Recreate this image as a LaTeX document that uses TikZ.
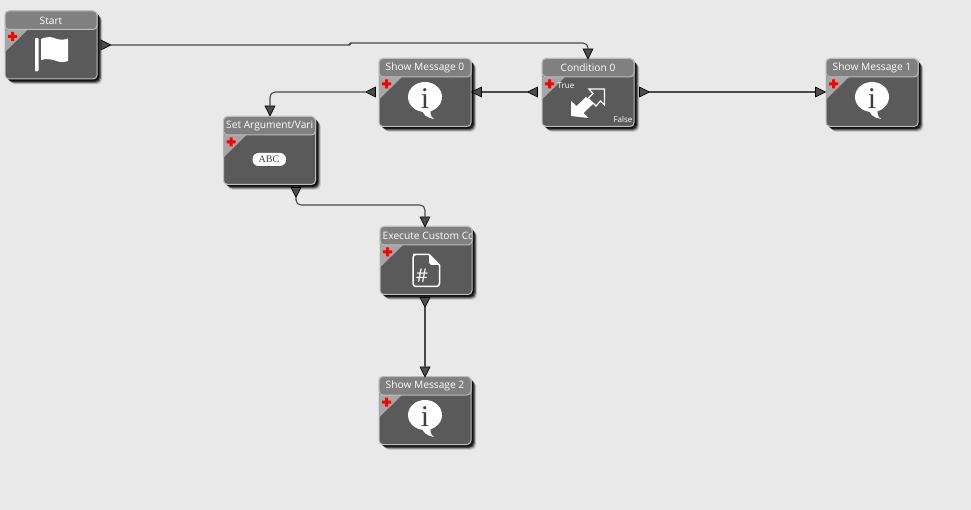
\documentclass[tikz,border=0pt]{standalone}
\usepackage{fontspec}
\setmainfont{Open Sans}
\newfontfamily\serifi{Liberation Serif}
\usetikzlibrary{shapes.geometric,calc}
\definecolor{bgc}{HTML}{E9E9E9}
\definecolor{bodyc}{HTML}{5A5A5A}
\definecolor{headc}{HTML}{808080}
\definecolor{edgec}{HTML}{BDBDBD}
\definecolor{cornerc}{HTML}{A6A6A6}
\definecolor{wirec}{HTML}{4A4A4A}
\definecolor{portc}{HTML}{4C4C4C}
\tikzset{
 blockbody/.style={draw=edgec,line width=1pt,fill=bodyc,rounded corners=4pt,anchor=north west,minimum width=92pt,minimum height=68pt,inner sep=0pt,outer sep=0pt},
 porttri/.style={isosceles triangle,isosceles triangle stretches,draw=black,line width=0.7pt,fill=portc,inner sep=0pt,outer sep=0pt,minimum width=10pt,minimum height=10pt},
 portleft/.style={porttri,shape border rotate=180},
 portright/.style={porttri,shape border rotate=0},
 portdown/.style={porttri,shape border rotate=270},
 wire/.style={draw=wirec,line width=1.1pt,rounded corners=5pt},
 jog/.style={draw=wirec,line width=1.1pt,rounded corners=1.5pt},
 titletext/.style={text=white,font=\fontsize{10.2}{12}\selectfont,inner sep=0pt},
 smalltext/.style={text=white,font=\fontsize{8}{9}\selectfont,inner sep=0pt},
}
% name, x, y, title, title placement (relative to the box)
\newcommand\blk[6][]{%
 \begin{scope}[shift={(#3,#4)}]
  \foreach \k/\o in {6/.10,5.2/.20,4.4/.35,3.6/.5,2.8/.65}{
   \fill[black,opacity=\o,rounded corners=5pt] (\k-1,\k-1) rectangle (92+\k-0.6,68+\k-0.6);}
  \node[blockbody] (#2) at (0,0) {};
  \fill[cornerc] (0,18.5) -- (23,18.5) -- (0,41) -- cycle;
  \path[draw=edgec,line width=1pt,fill=headc,rounded corners=4pt] (0,18.5) -- (0,0) -- (92,0) -- (92,18.5) -- cycle;
  \fill[red] (3,24) rectangle (12,27) (6,21) rectangle (9,30);
  \begin{scope}
   \clip (1,0) rectangle (91,18);
   \node[titletext,#1] (#2t) at #6 {#5};
  \end{scope}
 \end{scope}}
\newcommand\infoicon[3]{%
 \begin{scope}[shift={(#1,#2)}]
  \fill[white] (0,0) ellipse (17pt and 15pt);
  \fill[white] (-3,12) .. controls (-3,17) and (2,21) .. (9,22) .. controls (5,19) and (5,16) .. (6,12) -- cycle;
  \node[text=bodyc!70!black,inner sep=0pt,font=\serifi\fontsize{30}{30}\selectfont] (#3) at (0,2) {i};
 \end{scope}}
\begin{document}
\begin{tikzpicture}[x=1pt,y=-1pt]
\useasboundingbox (0,0) rectangle (971,510);
\fill[bgc] (0,0) rectangle (971,510);

\blk{start}{5}{11}{Start}{(46,9.5)}
\blk{msgA}{379}{58.5}{Show Message 0}{(46,9.5)}
\blk{cond}{542}{58.5}{Condition 0}{(46,9.5)}
\blk{msgB}{826}{58.5}{Show Message 1}{(46,9.5)}
\blk[anchor=west]{setarg}{223.5}{116.5}{Set Argument/Vari}{(2.5,9.5)}
\blk[anchor=west]{exec}{380}{226.5}{Execute Custom Co}{(2.5,9.5)}
\blk{msgC}{379}{376.5}{Show Message 2}{(46,9.5)}

% flag icon
\fill[white,rounded corners=0.8pt] (35,38) rectangle (38.5,71.5);
\fill[white] (41,39) .. controls (48,36) and (52,37) .. (57,39) .. controls (61,40) and (64,40) .. (68,38.5) -- (68,61) .. controls (63,63) and (59,62) .. (55,60.5) .. controls (50,59) and (46,58.5) .. (41,60) -- cycle;

% info icons
\infoicon{425}{97}{iA}
\infoicon{872}{97}{iB}
\infoicon{425}{415}{iC}

% ABC pill
\fill[white,rounded corners=6pt] (252.5,153) rectangle (286,166);
\node[text=bodyc!70!black,inner sep=0pt,font=\serifi\fontsize{10}{10}\selectfont] (abc) at (269,159.5) {ABC};

% document icon
\draw[white,line width=1.5pt,rounded corners=3pt] (429,254.5) -- (416,254.5) -- (413,254.5) -- (413,286.5) -- (439.5,286.5) -- (439.5,265);
\draw[white,line width=1.5pt] (429,254.5) -- (439.5,265);
\fill[white] (429,254.5) -- (439.5,265) -- (431,265) -- (429,263) -- cycle;
\node[text=white,inner sep=0pt,font=\fontsize{19}{19}\selectfont] (hash) at (422,275.5) {\#};

% condition arrows
\fill[white] (571,116) -- (571,101) -- (576.5,106) -- (586,97) -- (593,104) -- (583.5,113) -- (588.5,118) -- (571,116) -- cycle;
\draw[white,line width=1.3pt,line join=miter] (604.5,89) -- (589,89) -- (593,93.5) -- (588,98.5) -- (596,106) -- (600.5,101) -- (604.5,105) -- cycle;

% condition labels
\node[smalltext] (trueL) at (566,86) {True};
\node[smalltext] (falseL) at (623,119.5) {False};

% ports
\node[portright] (pStartOut) at (104,45) {};
\node[portdown]  (pCondIn)   at (588,52) {};
\node[portleft]  (pCondT)    at (534.5,92) {};
\node[portright] (pCondF)    at (642.5,92) {};
\node[portleft]  (pMsgAIn)   at (478.5,92) {};
\node[portleft]  (pMsgAOut)  at (372.5,92) {};
\node[portright] (pMsgBIn)   at (818.5,92) {};
\node[portdown]  (pSetIn)    at (270,109) {};
\node[portdown]  (pSetOut)   at (296,190.5) {};
\node[portdown]  (pExecIn)   at (425,220) {};
\node[portdown]  (pExecOut)  at (425,300.5) {};
\node[portdown]  (pMsgCIn)   at (425,370) {};

% connectors
\coordinate (jogA) at (350,45);
\coordinate (jogB) at (350,43);
\coordinate (jogC) at (352,43);
\coordinate (setBend) at (296,205);
\draw[jog] (pStartOut.apex) -- (jogA) -- (jogB) -- (jogC);
\draw[wire] (jogC) -- (jogC -| pCondIn.lower side) -- (pCondIn.lower side);
\draw[wire] (pCondT.apex) -- (pMsgAIn.lower side);
\draw[wire] (pMsgAOut.apex) -| (pSetIn.lower side);
\draw[wire] (pSetOut.apex) -- (setBend) -- (setBend -| pExecIn.lower side) -- (pExecIn.lower side);
\draw[wire] (pExecOut.apex) -- (pMsgCIn.lower side);
\draw[wire] (pCondF.apex) -- (pMsgBIn.lower side);
\end{tikzpicture}
\end{document}
